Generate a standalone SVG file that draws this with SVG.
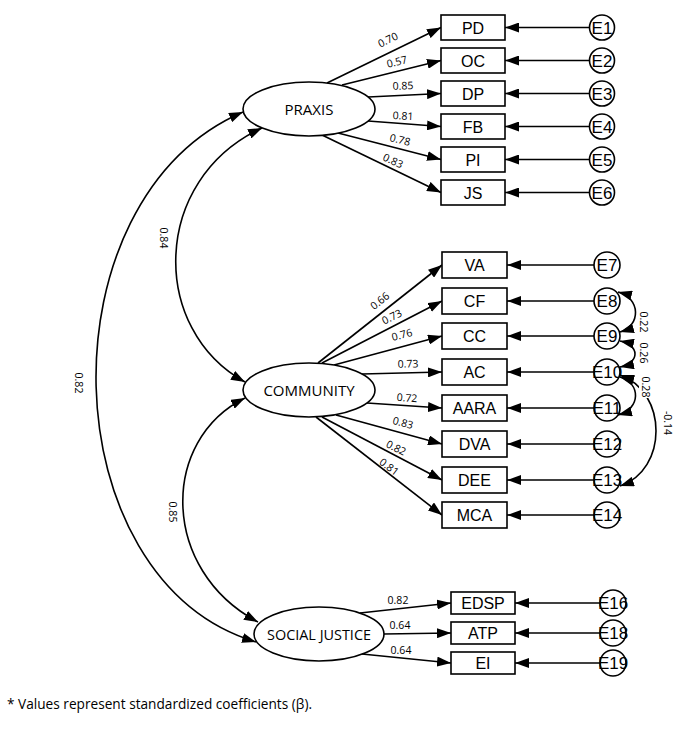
<svg xmlns="http://www.w3.org/2000/svg" width="688" height="746" viewBox="0 0 688 746">
<defs>
<marker id="ah" viewBox="0 0 14 10" refX="14" refY="5" markerWidth="14" markerHeight="10" markerUnits="userSpaceOnUse" orient="auto-start-reverse"><path d="M0,0 L14,5 L0,10 z" fill="#000"/></marker>
<style>
.ln{fill:none;stroke:#000;stroke-width:1.6;marker-end:url(#ah)}
.cv{fill:none;stroke:#000;stroke-width:1.6;marker-end:url(#ah);marker-start:url(#ah)}
.box{fill:#fff;stroke:#000;stroke-width:1.6}
.lat{fill:#fff;stroke:#000;stroke-width:1.6}
.err{fill:#fff;stroke:#000;stroke-width:1.6}
.bt{font-family:"Liberation Sans",Arial,sans-serif;font-size:16px;text-anchor:middle}
.et{font-family:"Liberation Sans",Arial,sans-serif;font-size:17px;text-anchor:middle}
.lt{font-family:"Open Sans","Liberation Sans",sans-serif;font-size:15px;text-anchor:middle}
.nt{font-family:"Open Sans","Liberation Sans",sans-serif;font-size:10.5px;text-anchor:middle}
.ft{font-family:"Open Sans","Liberation Sans",sans-serif;font-size:14px}
</style>
</defs>
<rect width="688" height="746" fill="#fff"/>

<g id="connectors">
<path class="cv" d="M243,112 C40,200 50,580 256,642"/>
<path class="cv" d="M262,128 C150,180 150,330 245,382"/>
<path class="cv" d="M245,398 C160,440 160,570 258,622"/>
<path class="ln" d="M327,83 L441,27.5"/>
<path class="ln" d="M342,85 L441,60.5"/>
<path class="ln" d="M368,97 L441,93.5"/>
<path class="ln" d="M368,121 L441,126.5"/>
<path class="ln" d="M338,133 L441,159.5"/>
<path class="ln" d="M322,135 L441,192.5"/>
<path class="ln" d="M318,363 L442,265"/>
<path class="ln" d="M322,363 L442,301"/>
<path class="ln" d="M334,365 L442,336"/>
<path class="ln" d="M362,374 L442,372"/>
<path class="ln" d="M367,403 L442,408"/>
<path class="ln" d="M336,415 L442,444"/>
<path class="ln" d="M322,417 L442,480"/>
<path class="ln" d="M316,417 L442,515"/>
<path class="ln" d="M360,613 L451,603"/>
<path class="ln" d="M384,634 L451,633"/>
<path class="ln" d="M362,654 L451,663"/>
<path class="ln" d="M590,27.5 L505,27.5"/>
<path class="ln" d="M590,60.5 L505,60.5"/>
<path class="ln" d="M590,93.5 L505,93.5"/>
<path class="ln" d="M590,126.5 L505,126.5"/>
<path class="ln" d="M590,159.5 L505,159.5"/>
<path class="ln" d="M590,192.5 L505,192.5"/>
<path class="ln" d="M594,265 L507,265"/>
<path class="ln" d="M594,301 L507,301"/>
<path class="ln" d="M594,336 L507,336"/>
<path class="ln" d="M594,372 L507,372"/>
<path class="ln" d="M594,408 L507,408"/>
<path class="ln" d="M594,444 L507,444"/>
<path class="ln" d="M594,480 L507,480"/>
<path class="ln" d="M594,515 L507,515"/>
<path class="ln" d="M600,603 L515,603"/>
<path class="ln" d="M600,633 L515,633"/>
<path class="ln" d="M600,663 L515,663"/>
<path class="cv" d="M620,375 C668,392 668,470 620,486"/>
<path class="cv" d="M618,292 C641,298 641,326 620,332"/>
<path class="cv" d="M620,341 C640,345 640,363 620,367"/>
<path class="cv" d="M620,377 C641,383 641,409 618,415"/>
</g>

<g id="labels" class="nt">
<text transform="translate(388,40) rotate(-25.8)" y="3.5">0.70</text>
<text transform="translate(397,62) rotate(-13.6)" y="3.5">0.57</text>
<text transform="translate(403,86) rotate(-2)" y="3.5">0.85</text>
<text transform="translate(403,116) rotate(3)" y="3.5">0.81</text>
<text transform="translate(400,140) rotate(14)" y="3.5">0.78</text>
<text transform="translate(393,161) rotate(25.6)" y="3.5">0.83</text>
<text transform="translate(380,301) rotate(-38)" y="3.5">0.66</text>
<text transform="translate(392,317) rotate(-27)" y="3.5">0.73</text>
<text transform="translate(402,335) rotate(-15)" y="3.5">0.76</text>
<text transform="translate(408,364) rotate(-1.5)" y="3.5">0.73</text>
<text transform="translate(407,398) rotate(4)" y="3.5">0.72</text>
<text transform="translate(403,423) rotate(15)" y="3.5">0.83</text>
<text transform="translate(396,448) rotate(27)" y="3.5">0.82</text>
<text transform="translate(389,467) rotate(37)" y="3.5">0.81</text>
<text x="398" y="603.5">0.82</text>
<text x="400" y="628.5">0.64</text>
<text x="401" y="653.5">0.64</text>
<text transform="translate(163,238) rotate(90)" y="3.5">0.84</text>
<text transform="translate(78,383) rotate(90)" y="3.5">0.82</text>
<text transform="translate(172,512) rotate(90)" y="3.5">0.85</text>
<text transform="translate(643,322) rotate(90)" y="3.5">0.22</text>
<text transform="translate(643,353) rotate(90)" y="3.5">0.26</text>
<rect x="639" y="376" width="12" height="22" fill="#fff"/>
<text transform="translate(645,387) rotate(90)" y="3.5">0.28</text>
<text transform="translate(667,423) rotate(90)" y="3.5">-0.14</text>
</g>

<g id="PRAXIS"><ellipse class="lat" cx="309" cy="109" rx="66" ry="27"/><text class="lt" x="309" y="114.5">PRAXIS</text></g>
<g id="COMMUNITY"><ellipse class="lat" cx="309" cy="390" rx="66" ry="27"/><text class="lt" x="309" y="395.5">COMMUNITY</text></g>
<g id="SOCIAL_JUSTICE"><ellipse class="lat" cx="319" cy="634" rx="65" ry="27"/><text class="lt" x="319" y="639.5" textLength="104" lengthAdjust="spacingAndGlyphs">SOCIAL JUSTICE</text></g>

<g id="PD"><rect class="box" x="441" y="15" width="64" height="25"/><text class="bt" x="473" y="33.5">PD</text></g>
<g id="OC"><rect class="box" x="441" y="48" width="64" height="25"/><text class="bt" x="473" y="66.5">OC</text></g>
<g id="DP"><rect class="box" x="441" y="81" width="64" height="25"/><text class="bt" x="473" y="99.5">DP</text></g>
<g id="FB"><rect class="box" x="441" y="114" width="64" height="25"/><text class="bt" x="473" y="132.5">FB</text></g>
<g id="PI"><rect class="box" x="441" y="147" width="64" height="25"/><text class="bt" x="473" y="165.5">PI</text></g>
<g id="JS"><rect class="box" x="441" y="180" width="64" height="25"/><text class="bt" x="473" y="198.5">JS</text></g>

<g id="VA"><rect class="box" x="442" y="252" width="65" height="26"/><text class="bt" x="474.5" y="271">VA</text></g>
<g id="CF"><rect class="box" x="442" y="288" width="65" height="26"/><text class="bt" x="474.5" y="307">CF</text></g>
<g id="CC"><rect class="box" x="442" y="323" width="65" height="26"/><text class="bt" x="474.5" y="342">CC</text></g>
<g id="AC"><rect class="box" x="442" y="359" width="65" height="26"/><text class="bt" x="474.5" y="378">AC</text></g>
<g id="AARA"><rect class="box" x="442" y="395" width="65" height="26"/><text class="bt" x="474.5" y="414">AARA</text></g>
<g id="DVA"><rect class="box" x="442" y="431" width="65" height="26"/><text class="bt" x="474.5" y="450">DVA</text></g>
<g id="DEE"><rect class="box" x="442" y="467" width="65" height="26"/><text class="bt" x="474.5" y="486">DEE</text></g>
<g id="MCA"><rect class="box" x="442" y="502" width="65" height="26"/><text class="bt" x="474.5" y="521">MCA</text></g>

<g id="EDSP"><rect class="box" x="451" y="592" width="64" height="22"/><text class="bt" x="483" y="609">EDSP</text></g>
<g id="ATP"><rect class="box" x="451" y="622" width="64" height="22"/><text class="bt" x="483" y="639">ATP</text></g>
<g id="EI"><rect class="box" x="451" y="652" width="64" height="22"/><text class="bt" x="483" y="669">EI</text></g>

<g id="E1"><circle class="err" cx="602" cy="27.5" r="12.5"/><text class="et" x="602" y="33.5">E1</text></g>
<g id="E2"><circle class="err" cx="602" cy="60.5" r="12.5"/><text class="et" x="602" y="66.5">E2</text></g>
<g id="E3"><circle class="err" cx="602" cy="93.5" r="12.5"/><text class="et" x="602" y="99.5">E3</text></g>
<g id="E4"><circle class="err" cx="602" cy="126.5" r="12.5"/><text class="et" x="602" y="132.5">E4</text></g>
<g id="E5"><circle class="err" cx="602" cy="159.5" r="12.5"/><text class="et" x="602" y="165.5">E5</text></g>
<g id="E6"><circle class="err" cx="602" cy="192.5" r="12.5"/><text class="et" x="602" y="198.5">E6</text></g>

<g id="E7"><circle class="err" cx="607" cy="265" r="13"/><text class="et" x="607" y="271">E7</text></g>
<g id="E8"><circle class="err" cx="607" cy="301" r="13"/><text class="et" x="607" y="307">E8</text></g>
<g id="E9"><circle class="err" cx="607" cy="336" r="13"/><text class="et" x="607" y="342">E9</text></g>
<g id="E10"><circle class="err" cx="607" cy="372" r="13"/><text class="et" x="607" y="378">E10</text></g>
<g id="E11"><circle class="err" cx="607" cy="408" r="13"/><text class="et" x="607" y="414">E11</text></g>
<g id="E12"><circle class="err" cx="607" cy="444" r="13"/><text class="et" x="607" y="450">E12</text></g>
<g id="E13"><circle class="err" cx="607" cy="480" r="13"/><text class="et" x="607" y="486">E13</text></g>
<g id="E14"><circle class="err" cx="607" cy="515" r="13"/><text class="et" x="607" y="521">E14</text></g>

<g id="E16"><circle class="err" cx="613" cy="603" r="13"/><text class="et" x="613" y="609">E16</text></g>
<g id="E18"><circle class="err" cx="613" cy="633" r="13"/><text class="et" x="613" y="639">E18</text></g>
<g id="E19"><circle class="err" cx="613" cy="663" r="13"/><text class="et" x="613" y="669">E19</text></g>

<text class="ft" x="7" y="709" textLength="305" lengthAdjust="spacingAndGlyphs">* Values represent standardized coefficients (β).</text>
</svg>
